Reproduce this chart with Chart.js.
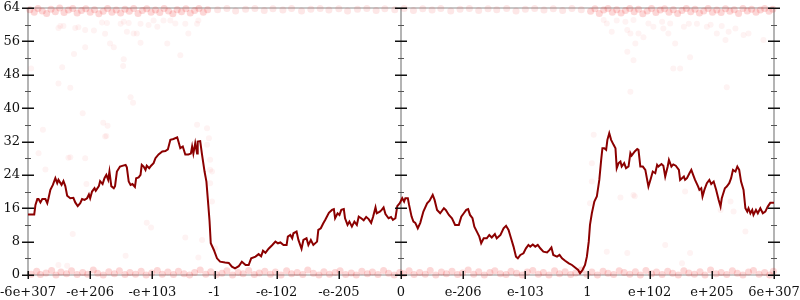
<!DOCTYPE html>
<html>
<head>
<meta charset="utf-8">
<script src="https://cdn.jsdelivr.net/npm/chart.js@4/dist/chart.umd.min.js"></script>
<style>
  html, body { margin: 0; padding: 0; background: #fff; }
</style>
</head>
<body>
<canvas id="chart" width="800" height="300"></canvas>
<script>
// x positions are in axis slots: -6 .. 6, one slot per tick label
const xTickLabels = ['-6e+307','-e+206','-e+103','-1','-e-102','-e-205','0','e-206','e-103','1','e+102','e+205','6e+307'];
const yMajorTicks = [0, 8, 16, 24, 32, 40, 48, 56, 64];
const yMinorTicks = [4, 12, 20, 28, 36, 44, 52, 60];

// running line (dark red)
const lineX = [
  -6.0,-5.9,-5.88,-5.85,-5.83,-5.8,-5.77,-5.72,-5.69,-5.67,-5.64,-5.6,-5.56,-5.53,-5.51,-5.46,-5.43,-5.4,-5.37,-5.32,
  -5.27,-5.24,-5.2,-5.16,-5.13,-5.09,-5.05,-5.02,-5.0,-4.97,-4.93,-4.91,-4.86,-4.84,-4.8,-4.77,-4.74,-4.71,-4.69,-4.66,
  -4.62,-4.6,-4.57,-4.52,-4.43,-4.41,-4.38,-4.35,-4.32,-4.28,-4.26,-4.22,-4.19,-4.17,-4.14,-4.11,-4.09,-4.05,-4.02,-3.98,
  -3.95,-3.9,-3.84,-3.79,-3.75,-3.71,-3.66,-3.6,-3.58,-3.55,-3.51,-3.47,-3.42,-3.38,-3.36,-3.34,-3.31,-3.28,-3.27,-3.23,
  -3.2,-3.16,-3.13,-3.1,-3.08,-3.06,-3.01,-2.96,-2.91,-2.83,-2.77,-2.72,-2.67,-2.61,-2.56,-2.5,-2.45,-2.41,-2.34,-2.29,
  -2.25,-2.22,-2.18,-2.13,-2.07,-2.02,-1.98,-1.94,-1.89,-1.84,-1.82,-1.78,-1.75,-1.73,-1.68,-1.65,-1.6,-1.57,-1.52,-1.49,
  -1.45,-1.41,-1.35,-1.33,-1.29,-1.25,-1.22,-1.16,-1.11,-1.08,-1.06,-1.02,-0.99,-0.96,-0.92,-0.9,-0.86,-0.83,-0.79,-0.75,
  -0.71,-0.68,-0.64,-0.6,-0.56,-0.52,-0.48,-0.45,-0.41,-0.39,-0.34,-0.31,-0.28,-0.25,-0.2,-0.16,-0.13,-0.09,-0.06,-0.02,
  0.02,0.05,0.07,0.11,0.13,0.17,0.2,0.23,0.27,0.31,0.36,0.42,0.46,0.51,0.54,0.58,0.63,0.69,0.72,0.77,
  0.82,0.87,0.93,0.97,1.01,1.05,1.08,1.11,1.15,1.18,1.22,1.26,1.29,1.33,1.38,1.42,1.46,1.51,1.54,1.6,
  1.65,1.69,1.73,1.77,1.81,1.85,1.88,1.92,1.97,2.01,2.05,2.08,2.12,2.16,2.2,2.24,2.29,2.35,2.39,2.42,
  2.45,2.51,2.55,2.59,2.64,2.7,2.75,2.8,2.85,2.88,2.92,2.96,2.99,3.02,3.04,3.07,3.11,3.15,3.19,3.22,
  3.24,3.27,3.3,3.32,3.35,3.38,3.42,3.45,3.47,3.5,3.53,3.55,3.59,3.62,3.66,3.69,3.71,3.76,3.8,3.82,
  3.85,3.89,3.93,3.96,3.98,4.02,4.05,4.09,4.12,4.14,4.19,4.22,4.25,4.29,4.31,4.35,4.38,4.42,4.47,4.49,
  4.52,4.55,4.57,4.6,4.64,4.67,4.71,4.73,4.78,4.8,4.83,4.85,4.88,4.92,4.96,4.99,5.03,5.07,5.11,5.14,
  5.16,5.21,5.24,5.28,5.31,5.34,5.38,5.41,5.44,5.47,5.51,5.54,5.57,5.59,5.62,5.65,5.67,5.71,5.74,5.78,
  5.82,5.86,5.9,5.94,6.0
];
const lineY = [
  14.5,14.5,16.8,18.2,18.2,17.4,18.2,18.2,17.2,18.4,20.4,21.6,23.2,22,22.8,21.6,22.5,21.3,19,18.4,
  18.5,17.4,16.5,17.2,18.2,18,18.4,19.3,18.4,20,20.8,20.2,21.3,22.5,21.8,23.2,24,22.8,24.8,21.3,
  20.8,21.3,24.8,26,26.4,25.8,22.4,21.6,21.8,21.1,23.2,23.4,24,26.4,26,25.2,26.2,25.6,26.2,26.8,
  28,28.9,29.6,29.7,30.1,32.4,32.6,33,32,30.4,30.8,28.9,28.9,29.1,30.8,29.1,31.6,29.1,32,32.1,
  28.8,24.8,22.4,16.8,13,7.6,6,4,3.2,3,2.9,2,1.6,2.1,3.2,2.4,2.4,4,4.4,5,
  4.5,5.8,5.3,6.3,7.2,8,7.6,7.8,7.2,7.2,9.2,9.6,8.8,10,10.4,8.4,6.3,8.4,8.8,7.2,
  8.4,7.2,8,10.8,11.2,12.4,13.2,14.9,15.6,15.8,13.6,14.8,14.4,15.6,15.8,13.6,12,12.8,11.6,12.8,
  12,14,13.6,13.1,13.9,13.4,12.5,13.9,16.2,14.8,15.2,15.6,16.2,14.6,13.6,13.9,13.2,13.6,16.5,17.2,
  18.4,17.6,18.4,18.4,16.8,14,12.8,12.5,11.2,12.5,15.2,17.2,17.8,19.2,18,15.6,14.8,16,15.6,14.4,
  13.6,12,12,14,14.8,15.6,15.8,14.4,13.6,11.6,10.4,9.2,7.6,8.8,8.8,9.6,9,9.8,8.8,9.6,
  11.2,11.8,10.8,8.8,6.8,4.4,4,4.8,5.2,6.4,7.2,6.8,7.3,6.8,7.2,6.4,5.6,5.4,6,6.6,
  4.8,4.4,4.8,4,3.4,2.8,2.4,1.8,1.2,0.4,1.2,2.4,4.4,8,12,14.8,17.6,18.8,22.8,27.6,
  30.4,30.4,30,32.4,34,32.4,31.2,30.4,25.6,26.8,27.2,26,26.8,25.6,26,29.2,28.6,29.6,30.2,30,
  26,26,25.2,22.8,21.2,23.2,24.8,24.4,26.4,26,26.6,26.2,23.6,26,27.6,26,26.5,26.2,25.2,22.8,
  23.2,23.6,22.8,23.2,24.4,25.2,23.6,22.8,21.2,20.4,20.8,18.8,20.4,22,22.8,21.8,22.4,20.4,18,16.4,
  18.4,20.8,21.2,22,23.2,25.2,24.8,26,25.2,22.4,20.4,16,15.2,16,14.8,15.6,14.4,15.6,14.8,16,
  14.8,15.2,16.4,17.3,17.3
];

// faint sample points: band near 0
const lowBand = [
  [-5.95,0.2],[-5.86,0.9],[-5.8,0.1],[-5.71,0.5],[-5.62,1.1],[-5.55,0.0],[-5.47,0.7],[-5.38,0.3],[-5.3,1.0],[-5.21,0.1],
  [-5.12,0.6],[-5.04,0.2],[-4.95,1.2],[-4.88,0.4],[-4.79,0.0],[-4.7,0.8],[-4.61,0.3],[-4.53,1.0],[-4.44,0.1],[-4.36,0.6],
  [-4.27,0.2],[-4.18,0.9],[-4.1,0.0],[-4.01,0.5],[-3.92,1.1],[-3.84,0.2],[-3.75,0.7],[-3.66,0.1],[-3.58,0.9],[-3.49,0.3],
  [-3.4,0.0],[-3.32,0.6],[-3.23,1.2],[-3.14,0.2],[-3.06,0.8],[-2.97,0.1],[-2.88,0.4],[-2.8,1.0],[-2.71,0.0],[-2.62,0.6],
  [-2.54,0.3],[-2.45,1.1],[-2.36,0.1],[-2.28,0.5],[-2.19,0.9],[-2.1,0.2],[-2.02,0.7],[-1.93,0.0],[-1.84,1.0],[-1.76,0.3],
  [-1.67,0.6],[-1.58,0.1],[-1.5,1.2],[-1.41,0.4],[-1.32,0.0],[-1.24,0.8],[-1.15,0.2],[-1.06,0.6],[-0.98,1.0],[-0.89,0.1],
  [-0.8,0.5],[-0.72,0.0],[-0.63,0.9],[-0.54,0.3],[-0.46,0.7],[-0.37,0.1],[-0.28,1.1],[-0.2,0.4],[-0.11,0.0],[-0.02,0.6],
  [0.04,0.3],[0.13,1.0],[0.21,0.1],[0.3,0.6],[0.39,0.2],[0.47,1.1],[0.56,0.0],[0.65,0.7],[0.73,0.3],[0.82,0.9],
  [0.91,0.1],[0.99,0.5],[1.08,1.2],[1.17,0.2],[1.25,0.8],[1.34,0.0],[1.43,0.6],[1.51,1.0],[1.6,0.3],[1.69,0.1],
  [1.77,0.9],[1.86,0.4],[1.95,0.0],[2.03,0.7],[2.12,1.1],[2.21,0.2],[2.29,0.6],[2.38,0.0],[2.47,1.0],[2.55,0.3],
  [2.64,0.8],[2.73,0.1],[2.81,0.5],[2.9,1.2],[2.99,0.2],[3.07,0.7],[3.16,0.0],[3.25,0.9],[3.33,0.4],[3.42,0.1],
  [3.51,1.0],[3.59,0.6],[3.68,0.2],[3.77,0.8],[3.85,0.0],[3.94,1.1],[4.03,0.3],[4.11,0.7],[4.2,0.1],[4.29,0.9],
  [4.37,0.4],[4.46,0.0],[4.55,1.0],[4.63,0.5],[4.72,0.2],[4.81,0.8],[4.89,0.0],[4.98,1.2],[5.07,0.3],[5.15,0.6],
  [5.24,0.1],[5.33,1.0],[5.41,0.4],[5.5,0.0],[5.59,0.7],[5.67,1.1],[5.76,0.2],[5.85,0.6],[5.93,0.0],[5.99,0.9]
];

// band near 64
const highBand = [
  [-5.97,63.6],[-5.9,63.0],[-5.84,63.9],[-5.77,63.3],[-5.7,62.7],[-5.63,63.7],[-5.56,63.1],[-5.49,64.0],[-5.42,62.9],[-5.35,63.5],
  [-5.28,63.9],[-5.21,62.8],[-5.14,63.4],[-5.07,63.8],[-5.0,63.0],[-4.93,63.6],[-4.86,62.6],[-4.79,63.2],[-4.72,63.9],[-4.65,63.0],
  [-4.58,63.5],[-4.51,62.8],[-4.44,63.7],[-4.37,63.2],[-4.3,63.9],[-4.23,62.7],[-4.16,63.4],[-4.09,63.8],[-4.02,63.0],[-3.95,63.5],
  [-3.88,62.9],[-3.81,63.9],[-3.74,63.3],[-3.67,62.6],[-3.6,63.6],[-3.53,63.1],[-3.46,63.8],[-3.39,62.8],[-3.32,63.4],[-3.25,63.9],
  [-3.18,63.0],[-3.11,63.6],
  [3.05,63.2],[3.12,63.8],[3.19,62.7],[3.26,63.5],[3.33,63.9],[3.4,63.0],[3.47,63.6],[3.54,62.8],[3.61,63.4],[3.68,63.9],
  [3.75,63.1],[3.82,63.7],[3.89,62.6],[3.96,63.3],[4.03,63.9],[4.1,62.9],[4.17,63.5],[4.24,63.8],[4.31,63.0],[4.38,63.6],
  [4.45,62.7],[4.52,63.4],[4.59,63.9],[4.66,63.1],[4.73,63.7],[4.8,62.8],[4.87,63.3],[4.94,63.9],[5.01,63.0],[5.08,63.5],
  [5.15,62.9],[5.22,63.8],[5.29,63.2],[5.36,63.6],[5.43,62.7],[5.5,63.9],[5.57,63.3],[5.64,63.7],[5.71,63.0],[5.78,63.5],
  [5.85,63.9],[5.92,63.2],[5.98,63.7]
];

// thinner stretch of the top band, between 1 and -1
const highMid = [
  [-2.95,63.6],[-2.8,63.9],[-2.66,63.3],[-2.5,63.7],[-2.35,63.9],[-2.2,63.4],[-2.06,63.8],[-1.9,63.5],[-1.76,63.9],[-1.6,63.3],
  [-1.45,63.7],[-1.3,63.9],[-1.16,63.5],[-1.0,63.8],[-0.86,63.3],[-0.7,63.7],[-0.55,63.9],[-0.4,63.4],[-0.26,63.8],[-0.1,63.6],
  [0.05,63.9],[0.2,63.4],[0.35,63.8],[0.5,63.5],[0.64,63.9],[0.8,63.3],[0.95,63.7],[1.1,63.9],[1.25,63.4],[1.4,63.8],
  [1.54,63.6],[1.7,63.9],[1.85,63.3],[2.0,63.7],[2.15,63.9],[2.3,63.5],[2.45,63.8],[2.6,63.4],[2.75,63.9],[2.9,63.6]
];

// loose points off the bands
const looseDots = [
  [-5.51,59.2],[-5.48,59.7],[-5.43,59.7],[-5.24,59.2],[-5.19,59.4],[-5.08,58.7],[-4.94,58.6],[-4.81,60.5],[-4.73,60.4],[-4.76,57.8],
  [-4.68,55.5],[-4.62,54.6],[-4.51,60.2],[-4.46,60.7],[-4.41,58.3],[-4.38,60.4],[-4.3,57.9],[-4.25,57.9],[-4.19,55.7],[-4.19,60.2],
  [-4.06,59.9],[-3.98,61],[-3.92,59.5],[-3.82,61],[-3.76,55.5],[-3.71,61],[-3.63,60.3],[-3.55,52.7],[-3.47,60.2],[-3.42,57.9],
  [-3.28,60.2],[-3.26,61],[-4.46,51.7],[-4.47,50.1],[-5.26,53],[-5.08,54.6],[-5.45,49.8],[-5.51,45.9],[-5.32,44.9],[-5.95,49.5],
  [-4.35,42.6],[-4.31,41.3],[-5.12,38.8],[-5.76,34.8],[-4.79,36.5],[-4.72,35.8],[-4.74,33.3],[-3.28,36],
  [-5.83,29.2],[-5.32,28.2],[-5.72,25.3],[-5.06,21.8],[-5.28,9.8],[-4.43,4.6],[-4.09,12.5],[-4.02,11.4],[-3.47,9],[-3.26,4.2],
  [-5.51,2.4],[-5.37,2.2],[-4.76,33.2],[-3.12,35.2],[-3.09,32.8],[-3.07,27.6],[-3.04,24.8],[-5.35,28.1],[-5.08,28],[-3.12,31.2],
  [-3.07,25.2],[-3.07,22],[-3.04,17.6],[-3.2,8.4],[-2.99,6.4],
  [3.26,61.1],[3.31,60.3],[3.39,58.3],[3.47,61],[3.61,60.7],[3.64,58.7],[3.69,57.9],[3.74,61.1],[3.77,55.5],[3.82,57.9],
  [3.64,53.5],[3.74,51.5],[3.9,57],[3.98,60.3],[4.06,59.5],[4.2,60.7],[4.22,59.1],[4.3,57.9],[4.33,60.3],[4.41,55.5],
  [4.38,49.5],[4.49,49.5],[4.55,59.5],[4.63,60.2],[4.65,52.2],[4.76,60.2],[4.92,59.5],[4.98,60],[5.08,57.9],[5.16,59.7],
  [5.22,56.3],[5.27,58.3],[5.38,59.1],[5.51,57.5],[5.59,57.9],[5.83,56.3],[5.24,45],[3.69,43.9],
  [3.31,5.6],[3.64,5.3],[3.53,18.6],[3.74,19.2],[4.25,7.2],[4.57,20],[4.52,2.8],[4.65,5.3],[5.14,15.6],[5.3,17.6],
  [5.35,15.2],[5.54,10.4],[3.1,33.6],[3.07,26.8],[3.07,22.4],[3.04,17.2],[3.76,18.9]
];

const toPts = arr => arr.map(p => ({ x: p[0], y: p[1] }));

const axesPlugin = {
  id: 'axes',
  beforeDatasetsDraw(chart) {
    const { ctx, chartArea: a, scales: { x } } = chart;
    ctx.save();
    ctx.strokeStyle = '#b4b4b4';
    ctx.lineWidth = 2;
    [x.min, 0, x.max].forEach(v => {
      const px = Math.round(x.getPixelForValue(v));
      ctx.beginPath(); ctx.moveTo(px, a.top); ctx.lineTo(px, a.bottom); ctx.stroke();
    });
    ctx.lineWidth = 1.5;
    [a.top, a.bottom].forEach(py => {
      ctx.beginPath(); ctx.moveTo(a.left, py); ctx.lineTo(a.right, py); ctx.stroke();
    });
    ctx.restore();
  },
  afterDatasetsDraw(chart) {
    const { ctx, chartArea: a, scales: { x, y } } = chart;
    ctx.save();
    [x.min, 0, x.max].forEach(v => {
      const px = Math.round(x.getPixelForValue(v));
      ctx.strokeStyle = '#111';
      ctx.lineWidth = 1.5;
      yMajorTicks.forEach(t => {
        const py = Math.round(y.getPixelForValue(t)) + 0.25;
        ctx.beginPath(); ctx.moveTo(px - 6, py); ctx.lineTo(px + 6, py); ctx.stroke();
      });
      ctx.strokeStyle = '#555';
      ctx.lineWidth = 1;
      yMinorTicks.forEach(t => {
        const py = Math.round(y.getPixelForValue(t)) + 0.5;
        ctx.beginPath(); ctx.moveTo(px - 3, py); ctx.lineTo(px + 3, py); ctx.stroke();
      });
    });
    ctx.strokeStyle = '#111';
    ctx.lineWidth = 1.5;
    xTickLabels.forEach((_, i) => {
      const px = Math.round(x.getPixelForValue(i - 6)) + 0.25;
      ctx.beginPath(); ctx.moveTo(px, a.bottom - 4); ctx.lineTo(px, a.bottom + 4); ctx.stroke();
    });
    ctx.restore();
  }
};

const bandStyle = {
  type: 'scatter',
  backgroundColor: 'rgba(235,20,20,0.17)',
  borderWidth: 0,
  pointRadius: 3.5,
  clip: 6,
  order: 2
};
const midStyle = Object.assign({}, bandStyle, { backgroundColor: 'rgba(235,20,20,0.1)' });
const looseStyle = {
  type: 'scatter',
  backgroundColor: 'rgba(235,20,20,0.05)',
  borderWidth: 0,
  pointRadius: 3,
  clip: 6,
  order: 3
};

new Chart(document.getElementById('chart').getContext('2d'), {
  data: {
    datasets: [
      {
        type: 'line',
        data: lineX.map((v, i) => ({ x: v, y: lineY[i] })),
        borderColor: '#8b0000',
        borderWidth: 2,
        pointRadius: 0,
        tension: 0,
        fill: false,
        order: 1
      },
      Object.assign({ data: toPts(lowBand) }, bandStyle),
      Object.assign({ data: toPts(highBand) }, bandStyle),
      Object.assign({ data: toPts(highMid) }, midStyle),
      Object.assign({ data: toPts(looseDots) }, looseStyle)
    ]
  },
  plugins: [axesPlugin],
  options: {
    responsive: false,
    animation: false,
    events: [],
    layout: { padding: { top: 8, right: 26, left: 0, bottom: 0 } },
    plugins: { legend: { display: false }, tooltip: { enabled: false } },
    scales: {
      x: {
        type: 'linear',
        min: -6,
        max: 6,
        border: { display: false },
        grid: { display: false, drawTicks: false },
        ticks: {
          stepSize: 1,
          autoSkip: false,
          maxRotation: 0,
          padding: 10,
          color: '#111',
          font: { family: 'DejaVu Serif', size: 13 },
          callback: v => xTickLabels[Math.round(v) + 6]
        },
        afterFit(s) { s.height = 25; s.paddingLeft = 0; s.paddingRight = 0; }
      },
      y: {
        type: 'linear',
        min: 0,
        max: 64,
        border: { display: false },
        grid: { display: false, drawTicks: false },
        ticks: {
          stepSize: 8,
          padding: 8,
          color: '#111',
          font: { family: 'DejaVu Serif', size: 13 }
        },
        afterFit(s) { s.width = 28; s.paddingTop = 0; s.paddingBottom = 0; }
      }
    }
  }
});
</script>
</body>
</html>
